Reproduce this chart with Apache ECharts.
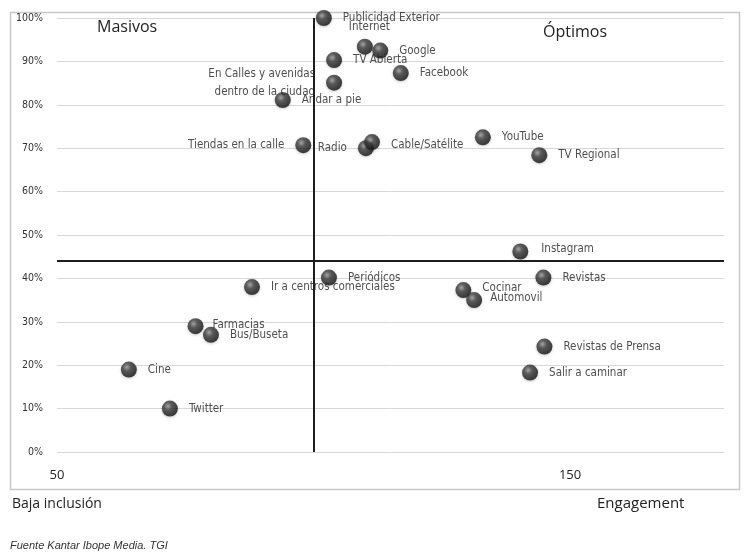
<!DOCTYPE html>
<html>
<head>
<meta charset="utf-8">
<script src="https://cdn.jsdelivr.net/npm/echarts@6/dist/echarts.min.js"></script>
<style>
html,body{margin:0;padding:0;background:#fff;}
#chart{width:746px;height:553px;}
</style>
</head>
<body>
<div id="chart"></div>
<script>
// ---- Data ----
const names = [
  'Publicidad Exterior', 'Internet', 'Google', 'TV Abierta', 'Facebook',
  'En Calles y avenidas\ndentro de la ciudad', 'Andar a pie', 'Tiendas en la calle',
  'Radio', 'Cable/Satélite', 'YouTube', 'TV Regional', 'Instagram', 'Revistas',
  'Periódicos', 'Ir a centros comerciales', 'Cocinar', 'Automovil', 'Farmacias',
  'Bus/Buseta', 'Cine', 'Twitter', 'Revistas de Prensa', 'Salir a caminar'
];
const engagement = [
  102, 110, 113, 104, 117,
  104, 94, 98,
  110.2, 111.4, 133, 144, 140.3, 144.8,
  103, 88, 129.2, 131.3, 77,
  80, 64, 72, 145, 142.2
];
const inclusion = [
  100, 93.4, 92.5, 90.3, 87.3,
  85.1, 81.1, 70.7,
  70.0, 71.4, 72.5, 68.4, 46.2, 40.2,
  40.2, 38.0, 37.3, 35.0, 29.0,
  27.0, 19.0, 10.0, 24.3, 18.3
];
const yTicks = [0, 10, 20, 30, 40, 50, 60, 70, 80, 90, 100];
const xTickLabels = [50, 150];
const crossX = 100;   // vertical divider (engagement)
const crossY = 44;    // horizontal divider (inclusion %)

// ---- Label style overrides (not data) ----
const labelStyle = {
  'Internet': { position: 'right', offset: [-35, -20] },
  'En Calles y avenidas\ndentro de la ciudad': { position: 'left', align: 'right' },
  'Tiendas en la calle': { position: 'left' },
  'Radio': { position: 'left' },
  'Cable/Satélite': { offset: [0, 3] },
  'Cocinar': { offset: [0, -2] },
  'Automovil': { offset: [-3, -2] },
  'Farmacias': { offset: [-2, -1] },
  'Instagram': { offset: [2, -2] }
};

const FONT = '"DejaVu Sans Condensed", "Liberation Sans", sans-serif';
const TFONT = '"Open Sans", "Noto Sans", sans-serif';

const sphere = {
  type: 'radial', x: 0.38, y: 0.35, r: 0.7,
  colorStops: [
    { offset: 0, color: '#9a9a9a' },
    { offset: 0.35, color: '#3c3c3c' },
    { offset: 1, color: '#0c0c0c' }
  ]
};

const seriesData = names.map((n, i) => {
  const d = { name: n, value: [engagement[i], inclusion[i]] };
  if (labelStyle[n]) d.label = labelStyle[n];
  return d;
});

const chart = echarts.init(document.getElementById('chart'), null, { renderer: 'canvas' });
chart.setOption({
  backgroundColor: '#fff',
  animation: false,
  grid: { left: 57, right: 22, top: 18, bottom: 101, containLabel: false },
  xAxis: {
    type: 'value', min: 50, max: 180, interval: 50,
    axisLine: { show: false }, axisTick: { show: false }, splitLine: { show: false },
    axisLabel: {
      margin: 17, fontSize: 13, color: '#222', fontFamily: TFONT,
      showMaxLabel: false,
      formatter: v => (xTickLabels.indexOf(v) >= 0 ? String(v) : '')
    }
  },
  yAxis: {
    type: 'value', min: 0, max: 100, interval: 10,
    axisLine: { show: false }, axisTick: { show: false },
    splitLine: { show: true, lineStyle: { color: '#d8d8d8', width: 1 } },
    axisLabel: {
      margin: 14, fontSize: 10.5, color: '#333', fontFamily: FONT,
      formatter: v => (yTicks.indexOf(v) >= 0 ? v + '%' : '')
    }
  },
  series: [{
    type: 'scatter',
    clip: false,
    symbol: 'circle',
    symbolSize: 16,
    itemStyle: { color: sphere, shadowColor: 'rgba(0,0,0,0.25)', shadowBlur: 3, shadowOffsetY: 1 },
    label: {
      show: true, position: 'right', distance: 11,
      formatter: p => p.name,
      fontFamily: FONT, fontSize: 11.5, color: '#222', lineHeight: 18
    },
    data: seriesData,
    markLine: {
      silent: true, symbol: 'none', animation: false,
      label: { show: false },
      lineStyle: { color: '#1e1e1e', width: 2, type: 'solid' },
      data: [{ xAxis: crossX }, { yAxis: crossY }]
    },
    z: 5
  }],
  graphic: [
    { type: 'rect', left: 8, top: 10, shape: { width: 729, height: 477 },
      style: { fill: 'none', stroke: '#c8c8c8', lineWidth: 1.5 }, z: -1 },
    { type: 'text', left: 97, top: 19,
      style: { text: 'Masivos', fontSize: 16, fill: '#222', fontFamily: TFONT } },
    { type: 'text', left: 543, top: 24,
      style: { text: 'Óptimos', fontSize: 16, fill: '#222', fontFamily: TFONT } },
    { type: 'text', left: 12, top: 497,
      style: { text: 'Baja inclusión', fontSize: 14, fill: '#222', fontFamily: TFONT } },
    { type: 'text', left: 597, top: 496,
      style: { text: 'Engagement', fontSize: 15, fill: '#222', fontFamily: TFONT } },
    { type: 'text', left: 10, top: 540,
      style: { text: 'Fuente Kantar Ibope Media. TGI', fontSize: 11, fontStyle: 'italic', fill: '#333', fontFamily: '"Liberation Sans", sans-serif' } }
  ]
});
</script>
</body>
</html>
